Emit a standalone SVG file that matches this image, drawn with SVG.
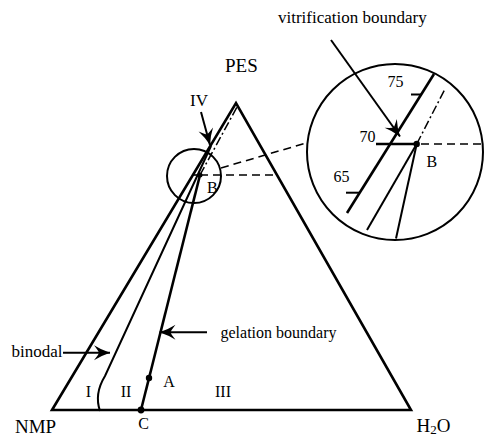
<svg xmlns="http://www.w3.org/2000/svg" width="486" height="437" viewBox="0 0 486 437">
<style>
text{font-family:"Liberation Serif","Times New Roman",serif;fill:#000}
.thick{stroke:#000;stroke-width:2.6;fill:none}
.med{stroke:#000;stroke-width:2;fill:none}
.thin{stroke:#000;stroke-width:1.6;fill:none}
.dash{stroke:#000;stroke-width:1.6;fill:none;stroke-dasharray:8 5}
.dashdot{stroke:#000;stroke-width:1.5;fill:none;stroke-dasharray:9 3 2 3}
.arr{stroke:#000;stroke-width:2;fill:none;marker-end:url(#ah)}
</style>
<defs>
<marker id="ah" viewBox="-17 -8 19 16" refX="0" refY="0" markerWidth="19" markerHeight="16" markerUnits="userSpaceOnUse" orient="auto">
<path d="M0,0 Q-9,-3 -16,-7.5 Q-11,-1 -11,0 Q-11,1 -16,7.5 Q-9,3 0,0Z" fill="#000"/>
</marker>
</defs>
<rect width="486" height="437" fill="#fff"/>
<g id="triangle">
<polygon class="thick" points="52,410 236,103 411,410"/>
</g>
<g id="binodal-curve">
<path class="med" d="M100,411 Q94,394 105,376 L211,146"/>
</g>
<g id="gelation-line">
<line class="thick" x1="141" y1="410" x2="200" y2="175"/>
<circle cx="149" cy="378" r="3.2"/>
<circle cx="141" cy="410" r="3.4"/>
<circle cx="200" cy="175" r="2.5"/>
</g>
<g id="small-circle">
<circle class="med" cx="194" cy="176" r="27"/>
<line class="thin" x1="193" y1="175" x2="200" y2="175"/>
</g>
<g id="big-circle">
<circle class="med" cx="395" cy="152" r="88"/>
<line class="thick" x1="434" y1="74" x2="347" y2="213"/>
<line class="med" x1="411" y1="94.5" x2="421.5" y2="94.5"/>
<line class="med" x1="346" y1="192.7" x2="360" y2="192.7"/>
<line class="thick" x1="376" y1="144" x2="416.7" y2="144"/>
<line class="med" x1="416.7" y1="144" x2="367" y2="230"/>
<line class="med" x1="416.7" y1="144" x2="396" y2="238.5"/>
<line class="dashdot" x1="416.7" y1="144" x2="445" y2="89"/>
<line class="dash" x1="421" y1="144" x2="483" y2="144"/>
<circle cx="416.7" cy="144" r="3.2"/>
<text x="395.5" y="87" font-size="16" text-anchor="middle">75</text>
<text x="367.5" y="141.5" font-size="16" text-anchor="middle">70</text>
<text x="341.5" y="181.5" font-size="16" text-anchor="middle">65</text>
<text x="426.5" y="167" font-size="16">B</text>
</g>
<g id="connectors">
<line class="dashdot" x1="200" y1="175" x2="237" y2="107"/>
<line class="dash" x1="200" y1="175" x2="277" y2="175"/>
<line class="dash" x1="221" y1="168" x2="306" y2="143"/>
<line class="arr" x1="201" y1="112" x2="210" y2="145"/>
<line class="arr" x1="331" y1="40" x2="400" y2="136.5"/>
<line class="arr" x1="63" y1="352.7" x2="110" y2="352.7"/>
<line class="arr" x1="207" y1="332.3" x2="159.5" y2="332.3"/>
</g>
<g id="labels">
<text x="225" y="72" font-size="19">PES</text>
<text x="190" y="106" font-size="17">IV</text>
<text x="207" y="193" font-size="16">B</text>
<text x="278" y="23" font-size="17">vitrification boundary</text>
<text x="220.5" y="337.5" font-size="16">gelation boundary</text>
<text x="11.5" y="356.5" font-size="17">binodal</text>
<text x="88.5" y="397" font-size="16" text-anchor="middle">I</text>
<text x="126" y="397" font-size="16" text-anchor="middle">II</text>
<text x="169" y="386.5" font-size="16" text-anchor="middle">A</text>
<text x="223" y="397" font-size="16" text-anchor="middle">III</text>
<text x="143.5" y="429" font-size="16" text-anchor="middle">C</text>
<text x="15" y="433" font-size="19">NMP</text>
<text x="416.5" y="432" font-size="19">H<tspan font-size="13" dy="2">2</tspan><tspan dy="-2">O</tspan></text>
</g>
</svg>
